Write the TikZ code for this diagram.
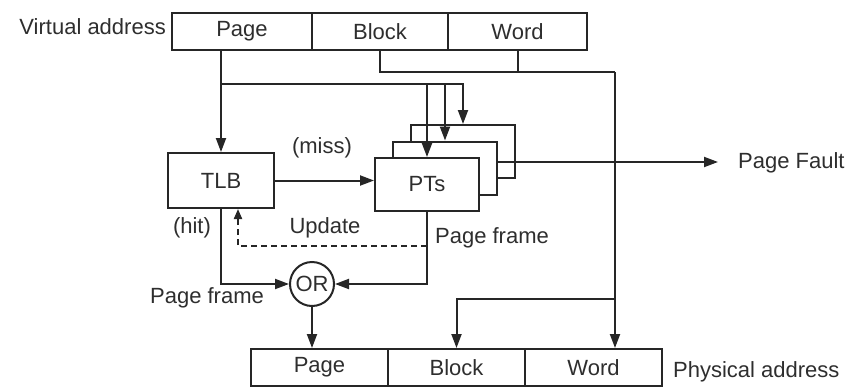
\documentclass[tikz,border=0pt]{standalone}
\usepackage{fontspec}
\setmainfont{Liberation Sans}
\usetikzlibrary{arrows.meta,calc}
\begin{document}
\begin{tikzpicture}[x=1pt,y=-1pt]
\tikzset{
  ink/.style={draw=black!85, line width=2pt},
  txt/.style={font=\fontsize{22}{24}\selectfont, text=black!82},
  field/.style={ink, txt, minimum height=37pt, inner sep=0pt},
  unit/.style={ink, txt, fill=white, minimum width=104pt, minimum height=53pt, inner sep=0pt},
  lbl/.style={txt, inner sep=0pt},
  arr/.style={ink, -{Triangle[length=14pt,width=10pt]}},
  wire/.style={ink},
}
\useasboundingbox (0,0) rectangle (852,391);

% virtual address fields
\node[field, minimum width=140pt] (vpage)  at (242,31.5)   {Page};
\node[field, minimum width=136pt] (vblock) at (380,31.5)   {Block};
\node[field, minimum width=139pt] (vword)  at (517.5,31.5) {Word};
\node[lbl, anchor=east] (vlbl) at (166,27) {Virtual address};

% physical address fields
\node[field, minimum width=137pt] (ppage)  at (319.5,367.5) {Page};
\node[field, minimum width=137pt] (pblock) at (456.5,367.5) {Block};
\node[field, minimum width=137pt] (pword)  at (593.5,367.5) {Word};
\node[lbl, anchor=west] (plbl) at (673,372) {Physical address};

% TLB and the stack of page tables (back to front)
\node[ink, txt, fill=white, minimum width=106pt, minimum height=55pt, inner sep=0pt] (tlb) at (221,180.5) {TLB};
\node[unit] (pt3) at (463,151.5) {};
\node[unit] (pt2) at (445,168) {};
\node[unit] (pt1) at (427,184.5) {PTs};

% OR gate
\node[ink, txt, circle, minimum size=44pt, inner sep=0pt] (or) at (312,284) {OR};

% page number to TLB and page tables
\coordinate (br) at (221,84);
\draw[arr] (tlb.north |- vpage.south) -- (tlb.north);
\draw[arr] (br) -| (pt3.north);
\draw[arr] (pt2.north |- br) -- (pt2.north);
\draw[arr] (pt1.north |- br) -- (pt1.north);

% miss path
\draw[arr] (tlb.east) -- (tlb.east -| pt1.west);
\node[lbl] (miss) at (322,148) {(miss)};

% page fault
\coordinate (pf) at (718,162);
\draw[arr] (pt2.east |- pf) -- (pf);
\node[lbl, anchor=west] (pflbl) at (738,163) {Page Fault};

% page frame into OR
\draw[arr] (tlb.south) |- (or.west);
\draw[arr] (pt1.south) |- (or.east);
\node[lbl] (hit) at (192,228) {(hit)};
\node[lbl] (pfr) at (492,238) {Page frame};
\node[lbl] (pfl) at (207,298) {Page frame};

% TLB update
\coordinate (upd) at (427,246);
\coordinate (tlbup) at ([xshift=17pt]tlb.south);
\draw[ink, dashed, dash pattern=on 6pt off 4pt, -{Triangle[length=10pt,width=8pt]}] (upd) -| (tlbup);
\node[lbl] (updl) at (325,228) {Update};

% OR output to physical page
\draw[arr] (or.south) -- (or.south |- ppage.north);

% block and word pass straight through
\coordinate (bw) at (615,72);
\coordinate (bb) at (615,299);
\draw[wire] (vblock.south) |- (bw);
\draw[wire] (vword.south) -- (vword.south |- bw);
\draw[arr] (bw) -- (bw |- pword.north);
\draw[arr] (bb) -| (pblock.north);
\end{tikzpicture}
\end{document}
